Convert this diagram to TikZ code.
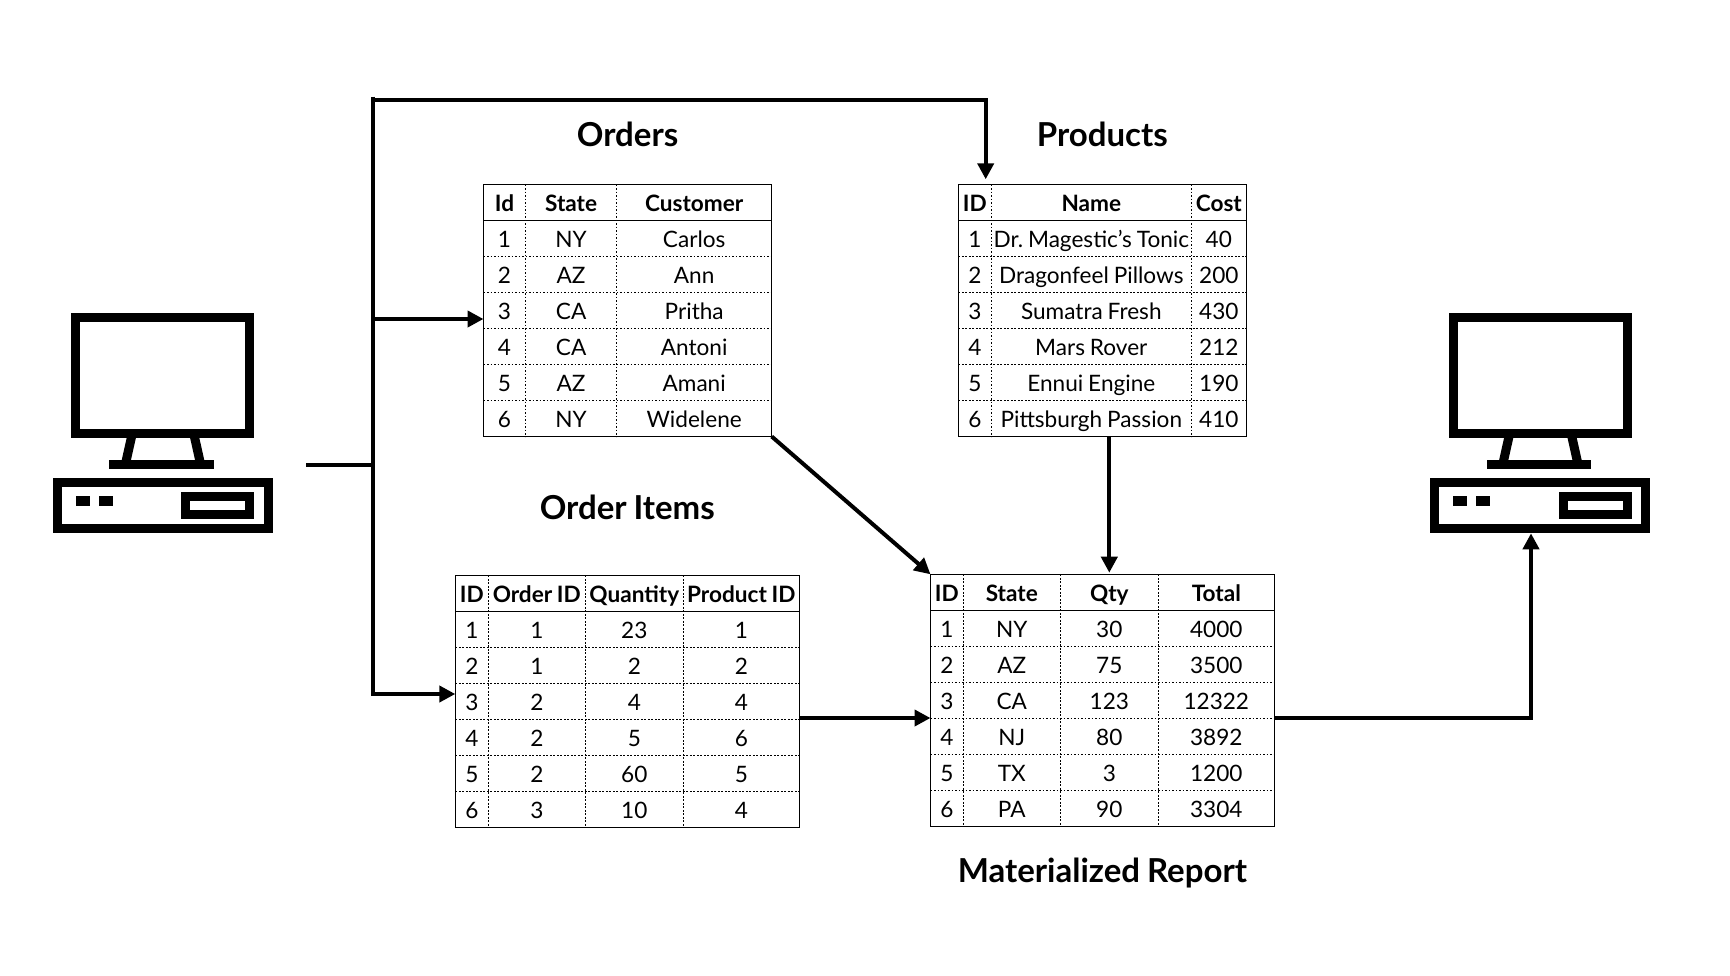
\documentclass[tikz,border=0pt]{standalone}
\usepackage{fontspec}
\setmainfont[WordSpace=0.85]{Lato}
\usetikzlibrary{arrows.meta,matrix,positioning}

\tikzset{
  dbtable/.style={matrix of nodes, draw, line width=1.5pt, inner sep=0pt, outer sep=0pt, anchor=north west,
    nodes={inner sep=0pt, outer sep=0pt, minimum height=36pt, text height=22pt, text depth=3.5pt, font=\fontsize{22.6}{28}\selectfont},
    row 1/.style={nodes={font=\fontsize{22.6}{28}\selectfont\bfseries}}},
  headrule/.style={line width=1.5pt},
  cellrule/.style={line width=1.5pt, dash pattern=on 1.8pt off 1.7pt},
  title/.style={inner sep=0pt, outer sep=0pt, text height=24pt, text depth=8pt, font=\fontsize{33}{38}\selectfont\bfseries},
  flow/.style={line width=4pt, -{Triangle[length=16pt,width=16pt]}},
  wire/.style={line width=4pt},
  iconline/.style={line width=9pt},
  computer/.pic={
    \draw[iconline] (75.8,317.8) rectangle (249.8,433.5);
    \draw[iconline] (131.7,436) -- (125.9,462);
    \draw[iconline] (194.3,436) -- (200.1,462);
    \fill (109.3,460) rectangle (214,469);
    \draw[iconline] (57.5,482.8) rectangle (268.5,528.5);
    \fill (76,496.3) rectangle (90,505.7);
    \fill (99,496.3) rectangle (113,505.7);
    \draw[iconline] (185.8,496.2) rectangle (249.8,514.8);
  }
}

\newcommand{\tablerules}[2]{
  \draw[headrule] (#1-1-1.south west) -- (#1-1-#2.south east);
  \foreach \r in {2,...,6} \draw[cellrule] (#1-\r-1.south west) -- (#1-\r-#2.south east);
  \pgfmathtruncatemacro\lastcol{#2-1}
  \foreach \c in {1,...,\lastcol} \draw[cellrule] (#1-1-\c.north east) -- (#1-7-\c.south east);
}

\begin{document}
\begin{tikzpicture}[x=1pt,y=-1pt]
\useasboundingbox (0,0) rectangle (1730,975);

\pic (source) at (0,0) {computer};
\pic (target) at (1377.4,0) {computer};

\matrix (orders) at (483.5,184.5) [dbtable,
  column 1/.style={nodes={minimum width=42pt}},
  column 2/.style={nodes={minimum width=91.2pt}},
  column 3/.style={nodes={minimum width=155pt}}] {
  Id & State & Customer \\
  1 & NY & Carlos \\
  2 & AZ & Ann \\
  3 & CA & Pritha \\
  4 & CA & Antoni \\
  5 & AZ & Amani \\
  6 & NY & Widelene \\
};
\matrix (products) at (958.3,184.5) [dbtable,
  column 1/.style={nodes={minimum width=33pt}},
  column 2/.style={nodes={minimum width=200pt}},
  column 3/.style={nodes={minimum width=55pt}}] {
  ID & Name & Cost \\
  1 & Dr.\ Magestic’s Tonic & 40 \\
  2 & Dragonfeel Pillows & 200 \\
  3 & Sumatra Fresh & 430 \\
  4 & Mars Rover & 212 \\
  5 & Ennui Engine & 190 \\
  6 & Pittsburgh Passion & 410 \\
};
\matrix (items) at (455.3,575.3) [dbtable,
  column 1/.style={nodes={minimum width=33pt}},
  column 2/.style={nodes={minimum width=97pt}},
  column 3/.style={nodes={minimum width=98pt}},
  column 4/.style={nodes={minimum width=116pt}}] {
  ID & Order ID & Quantity & Product ID \\
  1 & 1 & 23 & 1 \\
  2 & 1 & 2 & 2 \\
  3 & 2 & 4 & 4 \\
  4 & 2 & 5 & 6 \\
  5 & 2 & 60 & 5 \\
  6 & 3 & 10 & 4 \\
};
\matrix (report) at (930.5,574.3) [dbtable,
  column 1/.style={nodes={minimum width=32.8pt}},
  column 2/.style={nodes={minimum width=97pt}},
  column 3/.style={nodes={minimum width=98pt}},
  column 4/.style={nodes={minimum width=116pt}}] {
  ID & State & Qty & Total \\
  1 & NY & 30 & 4000 \\
  2 & AZ & 75 & 3500 \\
  3 & CA & 123 & 12322 \\
  4 & NJ & 80 & 3892 \\
  5 & TX & 3 & 1200 \\
  6 & PA & 90 & 3304 \\
};

\tablerules{orders}{3}
\tablerules{products}{3}
\tablerules{items}{4}
\tablerules{report}{4}

\node[title, above=30pt of orders] (orderstitle) {Orders};
\node[title, above=30pt of products] (productstitle) {Products};
\node[title, above=48pt of items] (itemstitle) {Order Items};
\node[title, below=32.3pt of report] (reporttitle) {Materialized Report};

\coordinate (start) at (306,465);
\coordinate (trunktop) at (373,96.7);
\coordinate (trunkend) at (373,696);
\coordinate (toproute) at (373,100);
\coordinate (productsin) at (985.7,179.3);
\coordinate (ordersin) at (orders.west |- 0,319);
\coordinate (itemsin) at (items.west |- 0,694);
\coordinate (itemsout) at (items.east |- 0,718);
\coordinate (reportin) at (report.west |- 0,718);
\coordinate (reportout) at (report.east |- 0,718);
\coordinate (targetin) at (1531,533.3);

\draw[wire] (trunktop) -- (trunkend);
\draw[wire] (start) -- (start -| trunktop);
\draw[flow] (toproute) -- (toproute -| productsin) -- (productsin);
\draw[flow] (ordersin -| trunktop) -- (ordersin);
\draw[flow] (itemsin -| trunktop) -- (itemsin);
\draw[flow] (orders.south east) -- (report.north west);
\draw[flow, shorten >=1.6pt] (products.south -| report-1-3.north) -- (report-1-3.north);
\draw[flow] (itemsout) -- (reportin);
\draw[flow] (reportout) -- (reportout -| targetin) -- (targetin);
\end{tikzpicture}
\end{document}
